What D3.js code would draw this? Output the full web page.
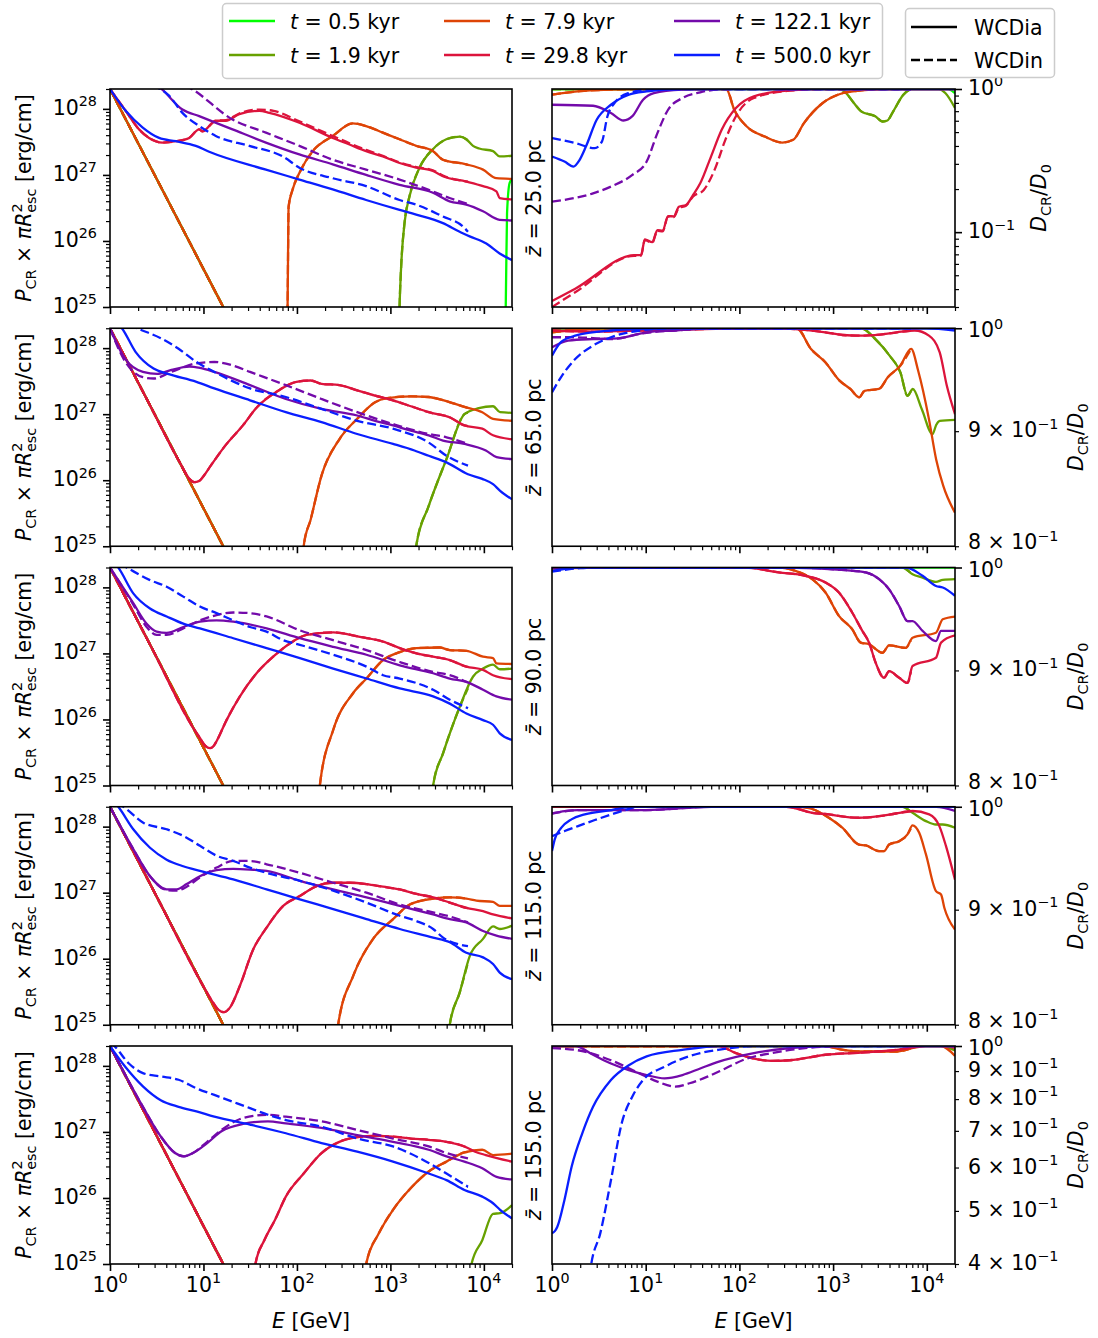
<!DOCTYPE html>
<html><head><meta charset="utf-8">
<script src="https://cdn.jsdelivr.net/npm/d3@7"></script>
<style>body{margin:0;background:#fff}svg{display:block}text{font-family:"DejaVu Sans",sans-serif;fill:#000}</style>
</head><body><svg id="c" width="1098" height="1338"></svg>
<script>
// ---------------- DATA (log10 E [GeV], log10 value) ----------------
const times = ["0.5", "1.9", "7.9", "29.8", "122.1", "500.0"];
const timeColors = ["#00ff00", "#67a100", "#de4406", "#dc143c", "#730aaa", "#0a1eff"];
const zLabels = ["25.0", "65.0", "90.0", "115.0", "155.0"];
const dDomains = [[0.03, 1], [0.8, 1], [0.8, 1], [0.8, 1], [0.4, 1]];
const xMajorTicks = [1, 10, 100, 1e3, 1e4];
const pMajorTicks = [1e25, 1e26, 1e27, 1e28];
const dashedMaxLgE = 3.83;
// injection spectrum line shared by early times
const steep = [[0, 28.30], [0.6, 26.666], [1.2, 25.032], [1.33, 24.68]];

// entries: [time index, dashed (0 = WCDia, 1 = WCDin), points | "same"]
const pcr_z25 = [
  [0, 0, steep.concat([[4.22, 24.5], [4.234, 25.0], [4.248, 26.42], [4.276, 26.88], [4.301, 26.93]])],
  [0, 1, "same"],
  [1, 0, steep.concat([[3.09, 24.5], [3.098, 25], [3.115, 25.61], [3.151, 26.27], [3.205, 26.68], [3.312, 27.11], [3.455, 27.39], [3.598, 27.54], [3.741, 27.58], [3.812, 27.54], [3.884, 27.44], [3.95, 27.40], [4.098, 27.36], [4.169, 27.28], [4.301, 27.29]])],
  [1, 1, "same"],
  [2, 0, steep.concat([[1.895, 24.5], [1.9, 25], [1.905, 25.8], [1.911, 26.52], [1.954, 26.78], [2.026, 27.03], [2.169, 27.36], [2.383, 27.59], [2.597, 27.78], [2.74, 27.74], [2.919, 27.64], [3.098, 27.54], [3.276, 27.44], [3.455, 27.36], [3.562, 27.23], [3.812, 27.16], [3.991, 27.08], [4.134, 26.95], [4.301, 26.94]])],
  [2, 1, "same"],
  [3, 0, [[0, 28.30], [0.168, 27.97], [0.311, 27.69], [0.418, 27.56], [0.561, 27.49], [0.704, 27.51], [0.847, 27.56], [0.954, 27.69], [0.99, 27.66], [1.132, 27.82], [1.24, 27.82], [1.383, 27.92], [1.597, 27.97], [1.704, 27.94], [2.026, 27.79], [2.383, 27.56], [2.562, 27.46], [2.74, 27.36], [2.919, 27.28], [3.098, 27.18], [3.276, 27.11], [3.455, 27.06], [3.562, 26.98], [3.812, 26.90], [3.991, 26.83], [4.134, 26.75], [4.169, 26.65], [4.301, 26.63]]],
  [3, 1, [[0, 28.30], [0.168, 27.97], [0.311, 27.69], [0.418, 27.56], [0.561, 27.49], [0.704, 27.51], [0.847, 27.56], [0.954, 27.69], [0.99, 27.66], [1.132, 27.82], [1.24, 27.83], [1.383, 27.93], [1.6, 27.99], [1.75, 27.97], [2.026, 27.81], [2.383, 27.59], [2.562, 27.48], [2.74, 27.38], [2.919, 27.29], [3.098, 27.19], [3.276, 27.12], [3.455, 27.07], [3.562, 26.99], [3.83, 26.90]]],
  [4, 0, [[0.45, 28.40], [0.543, 28.31], [0.775, 27.99], [0.954, 27.89], [1.311, 27.69], [1.668, 27.49], [2.026, 27.31], [2.383, 27.16], [2.74, 27.0], [3.098, 26.85], [3.455, 26.73], [3.633, 26.60], [3.812, 26.55], [3.991, 26.45], [4.169, 26.32], [4.301, 26.31]]],
  [4, 1, [[0.80, 28.36], [0.865, 28.31], [1.311, 27.84], [1.668, 27.64], [2.026, 27.44], [2.383, 27.23], [2.74, 27.08], [3.098, 26.93], [3.455, 26.75], [3.633, 26.65], [3.83, 26.56]]],
  [5, 0, [[0, 28.30], [0.168, 27.97], [0.347, 27.72], [0.525, 27.56], [0.704, 27.51], [0.918, 27.44], [1.061, 27.35], [1.668, 27.08], [2.026, 26.93], [2.383, 26.78], [2.74, 26.62], [3.098, 26.47], [3.276, 26.40], [3.562, 26.27], [3.741, 26.14], [3.848, 26.07], [4.026, 25.96], [4.169, 25.81], [4.301, 25.71]]],
  [5, 1, [[0.45, 28.36], [0.525, 28.31], [0.632, 28.20], [0.775, 27.94], [0.954, 27.74], [1.132, 27.59], [1.49, 27.44], [1.847, 27.28], [2.026, 27.11], [2.383, 26.95], [2.74, 26.83], [3.098, 26.62], [3.276, 26.55], [3.562, 26.37], [3.776, 26.22], [3.83, 26.14]]]
];

const pcr_z65 = [
  [0, 0, steep], [0, 1, "same"],
  [1, 0, steep.concat([[3.27, 24.5], [3.276, 25], [3.41, 25.61], [3.6, 26.32], [3.792, 27.0], [3.945, 27.09], [4.098, 27.12], [4.174, 27.03], [4.301, 27.02]])],
  [1, 1, "same"],
  [2, 0, steep.concat([[2.065, 24.5], [2.072, 25], [2.148, 25.41], [2.263, 26.07], [2.454, 26.62], [2.645, 26.93], [2.836, 27.18], [2.951, 27.24], [3.219, 27.27], [3.41, 27.26], [3.639, 27.18], [3.792, 27.11], [3.983, 27.03], [4.098, 26.93], [4.301, 26.90]])],
  [2, 1, "same"],
  [3, 0, [[0, 28.3], [0.4, 27.21], [0.75, 26.26], [0.85, 26.02], [0.9, 25.97], [0.956, 25.99], [1.0, 26.06], [1.078, 26.22], [1.231, 26.52], [1.422, 26.83], [1.575, 27.11], [1.804, 27.36], [1.995, 27.49], [2.148, 27.51], [2.263, 27.46], [2.454, 27.44], [2.645, 27.36], [2.836, 27.28], [3.028, 27.21], [3.219, 27.12], [3.41, 27.03], [3.639, 26.95], [3.792, 26.83], [3.983, 26.78], [4.098, 26.68], [4.301, 26.62]]],
  [3, 1, "same"],
  [4, 0, [[0, 28.3], [0.161, 27.84], [0.352, 27.64], [0.505, 27.61], [0.657, 27.67], [0.849, 27.72], [0.963, 27.70], [1.116, 27.64], [1.498, 27.44], [1.881, 27.23], [2.263, 27.08], [2.645, 26.98], [2.836, 26.90], [3.028, 26.83], [3.219, 26.75], [3.41, 26.68], [3.563, 26.60], [3.792, 26.55], [4.021, 26.45], [4.136, 26.35], [4.301, 26.32]]],
  [4, 1, [[0, 28.3], [0.161, 27.80], [0.352, 27.56], [0.466, 27.54], [0.657, 27.64], [0.925, 27.77], [1.116, 27.79], [1.307, 27.74], [1.498, 27.64], [1.881, 27.44], [2.263, 27.23], [2.645, 27.03], [3.028, 26.85], [3.41, 26.70], [3.6, 26.65], [3.83, 26.55]]],
  [5, 0, [[0.05, 28.4], [0.122, 28.31], [0.275, 27.94], [0.466, 27.69], [0.619, 27.61], [0.925, 27.49], [1.116, 27.39], [1.498, 27.21], [1.881, 27.03], [2.263, 26.88], [2.645, 26.70], [3.028, 26.55], [3.257, 26.45], [3.41, 26.37], [3.6, 26.27], [3.83, 26.09], [3.983, 26.02], [4.098, 25.94], [4.174, 25.84], [4.301, 25.71]]],
  [5, 1, [[0.2, 28.36], [0.275, 28.31], [0.543, 28.15], [0.734, 27.99], [0.925, 27.79], [1.116, 27.64], [1.498, 27.39], [1.881, 27.26], [2.263, 27.08], [2.645, 26.90], [3.028, 26.78], [3.41, 26.57], [3.6, 26.37], [3.83, 26.22]]]
];

const pcr_z90 = [
  [0, 0, steep], [0, 1, "same"],
  [1, 0, steep.concat([[3.45, 24.5], [3.457, 25], [3.564, 25.49], [3.742, 26.19], [3.885, 26.65], [3.991, 26.77], [4.098, 26.83], [4.17, 26.76], [4.301, 26.77]])],
  [1, 1, "same"],
  [2, 0, steep.concat([[2.24, 24.5], [2.245, 25], [2.388, 25.84], [2.602, 26.40], [2.744, 26.62], [2.922, 26.90], [3.1, 27.02], [3.279, 27.08], [3.528, 27.09], [3.635, 27.05], [3.813, 27.04], [3.991, 26.95], [4.098, 26.93], [4.134, 26.85], [4.301, 26.84]])],
  [2, 1, "same"],
  [3, 0, [[0, 28.3], [0.45, 27.075], [0.9, 25.85], [0.962, 25.72], [1.02, 25.6], [1.069, 25.565], [1.11, 25.6], [1.14, 25.67], [1.247, 25.99], [1.39, 26.35], [1.568, 26.70], [1.746, 26.95], [1.924, 27.15], [2.103, 27.28], [2.388, 27.32], [2.673, 27.25], [2.922, 27.18], [3.1, 27.08], [3.279, 27.0], [3.457, 26.95], [3.635, 26.90], [3.813, 26.80], [3.991, 26.75], [4.098, 26.67], [4.301, 26.61]]],
  [3, 1, "same"],
  [4, 0, [[0, 28.3], [0.249, 27.76], [0.392, 27.45], [0.499, 27.33], [0.606, 27.31], [0.784, 27.40], [0.962, 27.48], [1.14, 27.50], [1.319, 27.48], [1.675, 27.38], [2.031, 27.23], [2.388, 27.10], [2.744, 26.98], [3.1, 26.82], [3.457, 26.70], [3.635, 26.62], [3.813, 26.57], [3.991, 26.45], [4.134, 26.35], [4.301, 26.30]]],
  [4, 1, [[0, 28.3], [0.249, 27.74], [0.392, 27.40], [0.499, 27.28], [0.606, 27.28], [0.784, 27.38], [0.962, 27.50], [1.14, 27.58], [1.319, 27.62], [1.497, 27.61], [1.675, 27.56], [2.031, 27.35], [2.388, 27.20], [2.744, 27.05], [3.1, 26.87], [3.457, 26.72], [3.635, 26.67], [3.83, 26.56]]],
  [5, 0, [[0.03, 28.4], [0.089, 28.30], [0.249, 27.91], [0.428, 27.68], [0.606, 27.56], [0.784, 27.45], [0.962, 27.38], [1.319, 27.23], [1.675, 27.08], [2.031, 26.93], [2.388, 26.77], [2.744, 26.62], [3.1, 26.47], [3.457, 26.35], [3.635, 26.24], [3.813, 26.09], [3.991, 25.99], [4.098, 25.92], [4.17, 25.79], [4.301, 25.69]]],
  [5, 1, [[0.1, 28.36], [0.178, 28.30], [0.428, 28.11], [0.606, 28.01], [0.784, 27.86], [0.962, 27.71], [1.14, 27.61], [1.319, 27.50], [1.497, 27.40], [1.675, 27.33], [1.853, 27.20], [2.031, 27.13], [2.388, 26.98], [2.744, 26.80], [2.922, 26.67], [3.1, 26.62], [3.457, 26.45], [3.635, 26.30], [3.83, 26.17]]]
];

const pcr_z115 = [
  [0, 0, steep], [0, 1, "same"],
  [1, 0, steep.concat([[3.63, 24.5], [3.635, 25], [3.742, 25.49], [3.849, 26.04], [3.991, 26.30], [4.098, 26.49], [4.17, 26.45], [4.301, 26.50]])],
  [1, 1, "same"],
  [2, 0, steep.concat([[2.435, 24.5], [2.441, 25], [2.602, 25.74], [2.815, 26.30], [3.029, 26.60], [3.207, 26.82], [3.457, 26.91], [3.635, 26.93], [3.813, 26.91], [3.92, 26.88], [4.098, 26.86], [4.17, 26.80], [4.301, 26.80]])],
  [2, 1, "same"],
  [3, 0, [[0, 28.3], [0.5, 26.94], [1.0, 25.58], [1.087, 25.37], [1.158, 25.23], [1.219, 25.19], [1.283, 25.26], [1.39, 25.59], [1.532, 26.14], [1.675, 26.47], [1.853, 26.80], [2.031, 26.95], [2.21, 27.10], [2.388, 27.15], [2.566, 27.15], [2.744, 27.13], [2.922, 27.09], [3.1, 27.05], [3.279, 26.98], [3.457, 26.93], [3.635, 26.85], [3.813, 26.77], [3.991, 26.72], [4.098, 26.67], [4.301, 26.61]]],
  [3, 1, "same"],
  [4, 0, [[0, 28.3], [0.249, 27.66], [0.428, 27.25], [0.606, 27.05], [0.713, 27.05], [0.82, 27.13], [0.962, 27.25], [1.14, 27.34], [1.319, 27.36], [1.497, 27.35], [1.675, 27.33], [2.031, 27.18], [2.388, 27.05], [2.744, 26.93], [3.1, 26.80], [3.457, 26.67], [3.635, 26.60], [3.813, 26.55], [3.991, 26.42], [4.134, 26.35], [4.301, 26.30]]],
  [4, 1, [[0, 28.3], [0.249, 27.66], [0.428, 27.25], [0.606, 27.04], [0.713, 27.03], [0.82, 27.09], [0.962, 27.23], [1.14, 27.38], [1.319, 27.48], [1.497, 27.48], [1.675, 27.43], [2.031, 27.30], [2.388, 27.15], [2.744, 27.0], [3.1, 26.82], [3.457, 26.70], [3.635, 26.64], [3.83, 26.55]]],
  [5, 0, [[0.03, 28.4], [0.089, 28.30], [0.249, 27.96], [0.428, 27.68], [0.606, 27.50], [0.784, 27.40], [0.962, 27.33], [1.319, 27.20], [1.675, 27.05], [2.031, 26.90], [2.388, 26.75], [2.744, 26.60], [3.1, 26.45], [3.457, 26.32], [3.635, 26.25], [3.813, 26.09], [3.991, 26.02], [4.098, 25.92], [4.17, 25.79], [4.301, 25.69]]],
  [5, 1, [[0.07, 28.36], [0.143, 28.30], [0.356, 28.06], [0.606, 27.96], [0.784, 27.86], [0.962, 27.71], [1.14, 27.56], [1.319, 27.48], [1.497, 27.38], [1.675, 27.30], [2.031, 27.18], [2.388, 27.03], [2.744, 26.85], [3.1, 26.65], [3.279, 26.57], [3.457, 26.45], [3.564, 26.32], [3.83, 26.19]]]
];

const pcr_z155 = [
  [0, 0, steep], [0, 1, "same"],
  [1, 0, steep.concat([[3.86, 24.5], [3.868, 25], [3.983, 25.36], [4.098, 25.76], [4.174, 25.77], [4.301, 25.89]])],
  [1, 1, "same"],
  [2, 0, steep.concat([[2.735, 24.5], [2.741, 25], [2.875, 25.46], [3.028, 25.82], [3.219, 26.15], [3.41, 26.40], [3.6, 26.55], [3.792, 26.69], [3.983, 26.73], [4.098, 26.65], [4.301, 26.67]])],
  [2, 1, "same"],
  [3, 0, steep.concat([[1.55, 24.5], [1.556, 25], [1.651, 25.36], [1.766, 25.67], [1.881, 26.02], [2.072, 26.37], [2.263, 26.68], [2.454, 26.85], [2.645, 26.92], [2.836, 26.94], [3.028, 26.93], [3.219, 26.90], [3.41, 26.88], [3.6, 26.85], [3.792, 26.78], [3.907, 26.70], [4.021, 26.65], [4.301, 26.55]])],
  [3, 1, "same"],
  [4, 0, [[0, 28.3], [0.352, 27.38], [0.543, 26.93], [0.696, 26.68], [0.791, 26.63], [0.887, 26.68], [1.04, 26.83], [1.193, 27.01], [1.422, 27.12], [1.69, 27.16], [1.881, 27.13], [2.263, 27.06], [2.645, 26.95], [3.028, 26.85], [3.41, 26.73], [3.6, 26.63], [3.792, 26.55], [3.983, 26.45], [4.136, 26.32], [4.301, 26.28]]],
  [4, 1, [[0, 28.3], [0.352, 27.38], [0.543, 26.93], [0.696, 26.68], [0.791, 26.63], [0.887, 26.68], [1.04, 26.85], [1.193, 27.03], [1.422, 27.21], [1.69, 27.26], [1.881, 27.23], [2.263, 27.16], [2.645, 27.03], [3.028, 26.90], [3.41, 26.78], [3.6, 26.68], [3.83, 26.60]]],
  [5, 0, [[0, 28.30], [0.161, 27.99], [0.352, 27.69], [0.543, 27.48], [0.734, 27.38], [0.925, 27.31], [1.116, 27.23], [1.498, 27.11], [1.881, 26.98], [2.263, 26.83], [2.645, 26.70], [3.028, 26.55], [3.41, 26.37], [3.6, 26.27], [3.792, 26.12], [3.983, 26.02], [4.098, 25.92], [4.174, 25.82], [4.301, 25.69]]],
  [5, 1, [[0, 28.35], [0.046, 28.30], [0.199, 28.04], [0.352, 27.89], [0.543, 27.84], [0.734, 27.79], [0.925, 27.66], [1.116, 27.56], [1.307, 27.46], [1.498, 27.36], [1.69, 27.26], [1.881, 27.18], [2.263, 27.08], [2.645, 26.90], [3.028, 26.78], [3.41, 26.53], [3.6, 26.37], [3.83, 26.17]]]
];

// D_CR / D_0 (log10)
const dcr_z25 = [
  [0, 0, [[0, 0], [4.23, 0], [4.27, -0.012], [4.301, -0.03]]], [0, 1, "same"],
  [1, 0, [[0, 0], [3.05, 0], [3.108, -0.01], [3.222, -0.098], [3.3, -0.156], [3.45, -0.19], [3.528, -0.227], [3.58, -0.22], [3.642, -0.156], [3.75, -0.04], [3.833, 0], [4.13, 0], [4.2, -0.03], [4.301, -0.133]]], [1, 1, "same"],
  [2, 0, [[0, -0.04], [0.3, -0.015], [0.6, -0.005], [1.0, 0], [1.86, 0], [1.945, -0.145], [2.079, -0.262], [2.27, -0.332], [2.459, -0.374], [2.574, -0.355], [2.689, -0.238], [2.879, -0.103], [3.108, -0.028], [3.3, -0.01], [3.6, 0], [4.301, 0]]], [2, 1, "same"],
  [3, 0, [[0, -1.481], [0.248, -1.395], [0.877, -1.161], [0.95, -1.16], [0.991, -1.051], [1.07, -1.07], [1.125, -0.986], [1.18, -0.99], [1.239, -0.888], [1.3, -0.89], [1.354, -0.822], [1.43, -0.81], [1.506, -0.74], [1.582, -0.659], [1.697, -0.472], [1.811, -0.285], [1.963, -0.133], [2.155, -0.051], [2.536, -0.009], [2.9, 0], [4.301, 0]]],
  [3, 1, [[0, -1.523], [0.248, -1.42], [0.877, -1.165], [0.95, -1.165], [0.991, -1.055], [1.07, -1.075], [1.125, -0.99], [1.18, -0.995], [1.239, -0.892], [1.3, -0.895], [1.354, -0.83], [1.43, -0.815], [1.506, -0.75], [1.62, -0.705], [1.735, -0.565], [1.85, -0.355], [1.963, -0.19], [2.155, -0.063], [2.536, -0.012], [2.9, 0], [3.83, 0]]],
  [4, 0, [[0, -0.11], [0.438, -0.117], [0.629, -0.168], [0.763, -0.22], [0.858, -0.19], [0.972, -0.075], [1.087, -0.028], [1.39, -0.005], [1.7, 0], [4.301, 0]]],
  [4, 1, [[0, -0.787], [0.438, -0.729], [0.629, -0.682], [0.858, -0.6], [1.01, -0.507], [1.125, -0.308], [1.239, -0.145], [1.392, -0.063], [1.582, -0.023], [1.87, 0], [3.83, 0]]],
  [5, 0, [[0, -0.472], [0.133, -0.507], [0.229, -0.542], [0.29, -0.5], [0.362, -0.402], [0.477, -0.215], [0.629, -0.11], [0.82, -0.04], [1.01, -0.016], [1.2, -0.005], [1.4, 0], [4.301, 0]]],
  [5, 1, [[0, -0.343], [0.248, -0.378], [0.457, -0.413], [0.534, -0.366], [0.591, -0.192], [0.667, -0.098], [0.82, -0.028], [1.01, -0.005], [1.2, 0], [3.83, 0]]]
];

const dcr_z65 = [
  [0, 0, [[0, 0], [4.301, 0]]], [0, 1, "same"],
  [1, 0, [[0, 0], [3.298, 0], [3.451, -0.0048], [3.603, -0.0122], [3.718, -0.0196], [3.794, -0.030], [3.851, -0.027], [3.947, -0.036], [4.061, -0.0471], [4.1, -0.043], [4.138, -0.0412], [4.301, -0.0407]]], [1, 1, "same"],
  [2, 0, [[0, -0.0018], [0.3, -0.0005], [0.6, 0], [2.612, 0], [2.764, -0.0092], [2.917, -0.0151], [3.069, -0.0233], [3.184, -0.027], [3.279, -0.0307], [3.336, -0.0278], [3.489, -0.027], [3.584, -0.0218], [3.718, -0.0166], [3.833, -0.0092], [3.908, -0.0189], [4.023, -0.0404], [4.1, -0.0583], [4.176, -0.0701], [4.301, -0.082]]], [2, 1, "same"],
  [3, 0, [[0, -0.001], [0.45, -0.0015], [1.0, -0.001], [2.2, 0], [2.5, -0.0002], [2.917, -0.0018], [3.1, -0.003], [3.298, -0.0033], [3.5, -0.0028], [3.68, -0.0018], [3.87, -0.001], [4.023, -0.0033], [4.138, -0.0107], [4.214, -0.0256], [4.301, -0.0382]]], [3, 1, "same"],
  [4, 0, [[0, -0.0085], [0.172, -0.0055], [0.438, -0.0048], [0.705, -0.0045], [1.01, -0.0018], [1.315, -0.001], [1.7, 0], [4.301, 0]]],
  [4, 1, [[0, -0.004], [0.248, -0.004], [0.629, -0.0048], [1.01, -0.002], [1.315, -0.001], [1.7, 0], [3.83, 0]]],
  [5, 0, [[0, -0.0122], [0.095, -0.0062], [0.248, -0.0033], [0.629, -0.001], [1.0, -0.0003], [1.3, 0], [4.0, 0], [4.301, -0.001]]],
  [5, 1, [[0, -0.0285], [0.095, -0.0218], [0.248, -0.0137], [0.438, -0.0077], [0.629, -0.004], [0.94, -0.001], [1.3, 0], [3.83, 0]]]
];

const dcr_z90 = [
  [0, 0, [[0, 0], [4.301, 0]]], [0, 1, "same"],
  [1, 0, [[0, 0], [3.74, 0], [3.848, -0.003], [3.955, -0.0045], [4.098, -0.0064], [4.17, -0.0055], [4.301, -0.0052]]], [1, 1, "same"],
  [2, 0, [[0, -0.0005], [0.5, 0], [2.42, 0], [2.598, -0.0015], [2.777, -0.0052], [2.919, -0.0111], [3.062, -0.0215], [3.205, -0.0275], [3.294, -0.0334], [3.384, -0.0341], [3.526, -0.0379], [3.598, -0.0346], [3.776, -0.0357], [3.848, -0.0312], [4.098, -0.029], [4.17, -0.023], [4.301, -0.0218]]], [2, 1, "same"],
  [3, 0, [[0, 0], [2.063, 0], [2.42, -0.0022], [2.705, -0.0037], [2.919, -0.0067], [3.062, -0.0111], [3.205, -0.0201], [3.312, -0.0282], [3.384, -0.0334], [3.455, -0.0424], [3.544, -0.049], [3.598, -0.0461], [3.705, -0.049], [3.794, -0.0513], [3.848, -0.0438], [4.098, -0.0401], [4.152, -0.0334], [4.301, -0.0302]]], [3, 1, "same"],
  [4, 0, [[0, 0], [2.5, 0], [3.134, -0.0012], [3.348, -0.0022], [3.491, -0.0052], [3.598, -0.0097], [3.705, -0.0171], [3.794, -0.0238], [3.848, -0.0238], [3.955, -0.0282], [4.098, -0.0327], [4.152, -0.0282], [4.301, -0.0282]]], [4, 1, "same"],
  [5, 0, [[0, -0.0015], [0.3, 0], [3.776, 0], [3.955, -0.0037], [4.098, -0.0082], [4.17, -0.0089], [4.301, -0.0126]]],
  [5, 1, [[0, -0.0018], [0.3, -0.0003], [0.5, 0], [3.83, 0]]]
];

const dcr_z115 = [
  [0, 0, [[0, 0], [4.301, 0]]], [0, 1, "same"],
  [1, 0, [[0, 0], [3.74, 0], [3.848, -0.0027], [3.991, -0.0064], [4.098, -0.0079], [4.17, -0.0079], [4.301, -0.0093]]], [1, 1, "same"],
  [2, 0, [[0, 0], [2.634, 0], [2.777, -0.001], [2.955, -0.0049], [3.098, -0.0093], [3.276, -0.0168], [3.35, -0.0172], [3.491, -0.0197], [3.544, -0.0197], [3.598, -0.0168], [3.705, -0.0153], [3.794, -0.0123], [3.848, -0.0083], [3.919, -0.0116], [3.991, -0.0212], [4.098, -0.0375], [4.152, -0.039], [4.188, -0.045], [4.301, -0.0546]]], [2, 1, "same"],
  [3, 0, [[0, 0], [2.5, 0], [2.777, -0.0027], [2.955, -0.0034], [3.134, -0.0045], [3.276, -0.0049], [3.491, -0.0042], [3.669, -0.003], [3.848, -0.0019], [4.026, -0.0034], [4.134, -0.0086], [4.205, -0.0175], [4.301, -0.0324]]], [3, 1, "same"],
  [4, 0, [[0, -0.003], [0.136, -0.0019], [0.278, -0.0015], [1.0, -0.0015], [1.7, 0], [4.1, 0], [4.301, -0.0019]]],
  [4, 1, [[0, -0.003], [0.136, -0.002], [0.278, -0.0015], [1.0, -0.0015], [1.7, 0], [3.83, 0]]],
  [5, 0, [[0, -0.0197], [0.029, -0.0145], [0.1, -0.0093], [0.207, -0.0056], [0.35, -0.0034], [0.635, -0.0015], [0.85, 0], [4.301, 0]]],
  [5, 1, [[0, -0.0131], [0.136, -0.0108], [0.278, -0.0086], [0.457, -0.0059], [0.635, -0.0034], [0.778, -0.0015], [0.92, 0], [3.83, 0]]]
];

const dcr_z155 = [
  [0, 0, [[0, 0], [4.301, 0]]], [0, 1, "same"],
  [1, 0, [[0, 0], [4.15, 0], [4.301, -0.008]]], [1, 1, "same"],
  [2, 0, [[0, 0], [2.9, 0], [3.108, -0.007], [3.298, -0.010], [3.68, -0.010], [3.87, -0.003], [3.985, 0], [4.15, 0], [4.301, -0.018]]], [2, 1, "same"],
  [3, 0, [[0, 0], [1.773, 0], [1.963, -0.013], [2.155, -0.023], [2.346, -0.027], [2.536, -0.026], [2.917, -0.016], [3.298, -0.012], [3.68, -0.007], [3.985, 0], [4.22, 0], [4.301, -0.004]]], [3, 1, "same"],
  [4, 0, [[0, 0], [0.248, 0], [0.438, -0.016], [0.629, -0.032], [0.82, -0.044], [1.01, -0.053], [1.201, -0.059], [1.392, -0.053], [1.582, -0.041], [1.773, -0.029], [2.155, -0.013], [2.536, -0.004], [3.0, 0], [4.301, 0]]],
  [4, 1, [[0, -0.004], [0.248, -0.007], [0.629, -0.026], [0.934, -0.05], [1.125, -0.065], [1.316, -0.074], [1.468, -0.068], [1.659, -0.056], [1.85, -0.041], [2.079, -0.023], [2.346, -0.013], [2.7, -0.004], [3.1, 0], [3.83, 0]]],
  [5, 0, [[0, -0.342], [0.03, -0.338], [0.057, -0.330], [0.133, -0.281], [0.21, -0.22], [0.324, -0.159], [0.438, -0.111], [0.629, -0.062], [0.82, -0.035], [1.01, -0.019], [1.392, -0.007], [1.8, 0], [4.301, 0]]],
  [5, 1, [[0.40, -0.42], [0.419, -0.398], [0.515, -0.342], [0.629, -0.245], [0.744, -0.141], [0.858, -0.092], [0.972, -0.062], [1.201, -0.038], [1.392, -0.023], [1.582, -0.013], [1.773, -0.007], [2.2, 0], [3.83, 0]]]
];

const pcrRows = [pcr_z25, pcr_z65, pcr_z90, pcr_z115, pcr_z155];
const dcrRows = [dcr_z25, dcr_z65, dcr_z90, dcr_z115, dcr_z155];

// ---------------- LAYOUT ----------------
const FS = 20.5, LW = 2.3, DASH = "9,4";
const svg = d3.select("#c");
const LX0 = 110, LX1 = 512, RX0 = 552, RX1 = 955, PH = 218;
const rowTop = i => 89 + i * 239.25;
const xL = d3.scaleLog().domain([1, 2e4]).range([LX0, LX1]);
const xR = d3.scaleLog().domain([1, 2e4]).range([RX0, RX1]);

function trunc(pts, xmax) {
  const out = [];
  for (let i = 0; i < pts.length; i++) {
    const p = pts[i];
    if (p[0] <= xmax) out.push(p);
    else { const q = pts[i - 1]; if (q) { const f = (xmax - q[0]) / (p[0] - q[0]); out.push([xmax, q[1] + f * (p[1] - q[1])]); } break; }
  }
  return out;
}
function resolve(list) {
  return list.map(([t, d, pts]) => {
    if (pts === "same") { const s = list.find(e => e[0] === t && e[1] === 0); pts = trunc(s[2], dashedMaxLgE); }
    return { t, d, pts };
  });
}

function rich(parent, parts, attrs) {
  const t = parent.append("text").attr("font-size", FS);
  Object.entries(attrs).forEach(([k, v]) => t.attr(k, v));
  let shift = 0;
  parts.forEach(p => {
    const s = t.append("tspan").text(p.t);
    const target = p.sup ? -0.42 * FS : p.sub ? 0.24 * FS : 0;
    if (target - shift) s.attr("dy", target - shift);
    shift = target;
    if (p.sup || p.sub) s.attr("font-size", 0.7 * FS);
    if (p.i) s.attr("font-style", "italic");
    if (p.dx) s.attr("dx", p.dx);
  });
  return t;
}

function tickMarks(g, axisFn, scale, values, size, width, transform) {
  const a = axisFn(scale).tickValues(values).tickSize(size).tickSizeOuter(0).tickFormat(() => "");
  const gg = g.append("g").attr("transform", transform).call(a);
  gg.select(".domain").remove();
  gg.selectAll("text").remove();
  gg.selectAll("line").attr("stroke", "#000").attr("stroke-width", width);
}

const xMinor = [];
for (let d = 0; d <= 4; d++) for (let k = 2; k <= 9; k++) { const v = k * 10 ** d; if (v <= 2e4) xMinor.push(v); }
const pMinor = [];
for (let d = 25; d <= 28; d++) for (let k = 2; k <= 9; k++) { const v = k * 10 ** d; if (v <= 2.0001e28) pMinor.push(v); }

let clipId = 0;
function drawSeries(g, series, xs, ys, x0, x1, y0, y1) {
  const id = "clip" + (clipId++);
  g.append("clipPath").attr("id", id).append("rect").attr("x", x0).attr("y", y0).attr("width", x1 - x0).attr("height", y1 - y0);
  const lg = g.append("g").attr("clip-path", `url(#${id})`);
  const line = d3.line().x(d => xs(10 ** d[0])).y(d => ys(10 ** d[1])).curve(d3.curveMonotoneX);
  for (let t = 0; t < 6; t++) {
    series.filter(s => s.t === t).sort((a, b) => a.d - b.d).forEach(s => {
      lg.append("path").attr("d", line(s.pts)).attr("fill", "none")
        .attr("stroke", timeColors[s.t]).attr("stroke-width", LW)
        .attr("stroke-dasharray", s.d ? DASH : null).attr("stroke-linejoin", "round");
    });
  }
}

for (let r = 0; r < 5; r++) {
  const top = rowTop(r), bot = top + PH, cy = top + PH / 2;
  const g = svg.append("g");
  const yP = d3.scaleLog().domain([1e25, 2e28]).range([bot, top]);
  const yD = d3.scaleLog().domain(dDomains[r]).range([bot, top]);

  drawSeries(g, resolve(pcrRows[r]), xL, yP, LX0, LX1, top, bot);
  drawSeries(g, resolve(dcrRows[r]), xR, yD, RX0, RX1, top, bot);

  // spines
  [[LX0, LX1], [RX0, RX1]].forEach(([a, b]) => g.append("rect").attr("x", a).attr("y", top).attr("width", b - a).attr("height", PH)
    .attr("fill", "none").attr("stroke", "#000").attr("stroke-width", 1.6));

  // x ticks
  [xL, xR].forEach(xs => {
    tickMarks(g, d3.axisBottom, xs, xMajorTicks, 7, 1.6, `translate(0,${bot})`);
    tickMarks(g, d3.axisBottom, xs, xMinor, 4, 1.2, `translate(0,${bot})`);
  });
  // left y ticks
  tickMarks(g, d3.axisLeft, yP, pMajorTicks, 7, 1.6, `translate(${LX0},0)`);
  tickMarks(g, d3.axisLeft, yP, pMinor, 4, 1.2, `translate(${LX0},0)`);
  pMajorTicks.forEach(v => rich(g, [{ t: "10" }, { t: String(Math.round(Math.log10(v))), sup: 1 }],
    { x: LX0 - 13, y: yP(v) + 6, "text-anchor": "end" }));

  // right y ticks
  const [dlo] = dDomains[r];
  let dMaj, dMin, dLab;
  if (r === 0) {
    dMaj = [0.1, 1]; dMin = [0.03, 0.04, 0.05, 0.06, 0.07, 0.08, 0.09, 0.2, 0.3, 0.4, 0.5, 0.6, 0.7, 0.8, 0.9];
    dLab = [[1, [{ t: "10" }, { t: "0", sup: 1 }]], [0.1, [{ t: "10" }, { t: "\u22121", sup: 1 }]]];
  } else {
    dMaj = [1]; dMin = [];
    for (let k = 9; k >= Math.round(dlo * 10); k--) dMin.push(k / 10);
    dLab = [[1, [{ t: "10" }, { t: "0", sup: 1 }]]].concat(dMin.map(v => [v, [{ t: Math.round(v * 10) + " \u00d7 10" }, { t: "\u22121", sup: 1 }]]));
  }
  tickMarks(g, d3.axisRight, yD, dMaj, 7, 1.6, `translate(${RX1},0)`);
  tickMarks(g, d3.axisRight, yD, dMin, 4, 1.2, `translate(${RX1},0)`);
  dLab.forEach(([v, parts]) => {
    // small nudges keep the stacked labels at panel joins from colliding
    let off = 6;
    if (r > 0 && v === 1) off = 9;
    if (r > 0 && r < 4 && v === dlo) off = 3;
    rich(g, parts, { x: RX1 + 13, y: yD(v) + off, "text-anchor": "start" });
  });

  // axis labels
  rich(g, [{ t: "P", i: 1 }, { t: "CR", sub: 1 }, { t: " \u00d7 " }, { t: "\u03c0", i: 1 }, { t: "R", i: 1 }, { t: "2", sup: 1 },
    { t: "esc", sub: 1, dx: -9.3 }, { t: " [erg/cm]" }],
    { transform: `translate(31,${cy}) rotate(-90)`, "text-anchor": "middle" });
  rich(g, [{ t: "z\u0304", i: 1 }, { t: " = " }, { t: zLabels[r] + " pc" }],
    { transform: `translate(541,${cy}) rotate(-90)`, "text-anchor": "middle" });
  const dLabelX = r === 0 ? 1046 : 1083;
  rich(g, [{ t: "D", i: 1 }, { t: "CR", sub: 1 }, { t: "/" }, { t: "D", i: 1 }, { t: "0", sub: 1 }],
    { transform: `translate(${dLabelX},${cy}) rotate(-90)`, "text-anchor": "middle" });

  if (r === 4) {
    [xL, xR].forEach(xs => {
      xMajorTicks.forEach(v => rich(g, [{ t: "10" }, { t: String(Math.round(Math.log10(v))), sup: 1 }],
        { x: xs(v), y: bot + 28, "text-anchor": "middle" }));
      const [a, b] = xs.range();
      rich(g, [{ t: "E", i: 1 }, { t: " [GeV]" }], { x: (a + b) / 2, y: 1328, "text-anchor": "middle" });
    });
  }
}

// ---------------- LEGENDS ----------------
const leg = svg.append("g");
leg.append("rect").attr("x", 222.5).attr("y", 3.5).attr("width", 660).attr("height", 75).attr("rx", 4)
  .attr("fill", "#fff").attr("stroke", "#cccccc").attr("stroke-width", 1.5);
const colX = [229, 444, 674], rowY = [21, 55];
times.forEach((t, i) => {
  const cx = colX[Math.floor(i / 2)], cyy = rowY[i % 2];
  leg.append("line").attr("x1", cx).attr("x2", cx + 46).attr("y1", cyy).attr("y2", cyy).attr("stroke", timeColors[i]).attr("stroke-width", LW);
  rich(leg, [{ t: "t", i: 1 }, { t: " = " + t + " kyr" }], { x: cx + 61, y: cyy + 7.5 });
});
const leg2 = svg.append("g");
leg2.append("rect").attr("x", 905.5).attr("y", 8.5).attr("width", 149).attr("height", 69).attr("rx", 4)
  .attr("fill", "#fff").attr("stroke", "#cccccc").attr("stroke-width", 1.5);
[["WCDia", null, 27], ["WCDin", DASH, 60]].forEach(([lab, dash, y]) => {
  leg2.append("line").attr("x1", 911).attr("x2", 957).attr("y1", y).attr("y2", y).attr("stroke", "#000")
    .attr("stroke-width", LW).attr("stroke-dasharray", dash);
  rich(leg2, [{ t: lab }], { x: 974, y: y + 7.5 });
});
</script></body></html>
